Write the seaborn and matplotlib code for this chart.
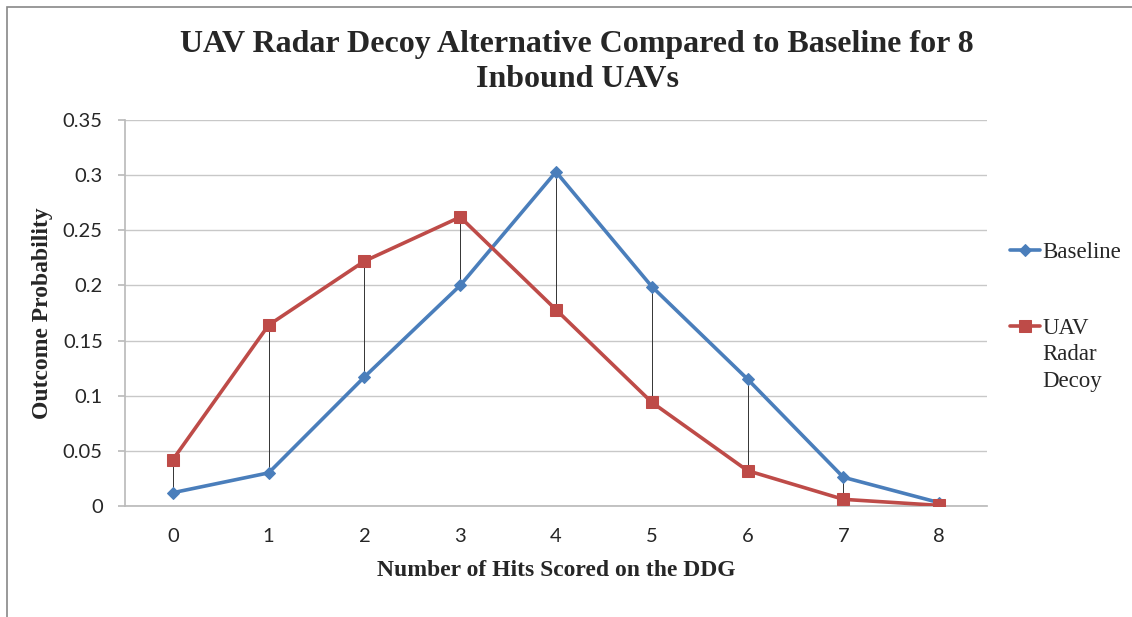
import matplotlib
matplotlib.use("Agg")
import matplotlib.pyplot as plt
import numpy as np
import pandas as pd
import seaborn as sns

# values
hits = [0, 1, 2, 3, 4, 5, 6, 7, 8]
baseline = [0.012, 0.030, 0.117, 0.200, 0.303, 0.199, 0.115, 0.026, 0.003]
decoy = [0.042, 0.164, 0.222, 0.262, 0.178, 0.094, 0.032, 0.006, 0.0005]
series_names = ["Baseline", "UAV Radar Decoy"]
y_ticks = [0, 0.05, 0.1, 0.15, 0.2, 0.25, 0.3, 0.35]
y_ticklabels = ["0", "0.05", "0.1", "0.15", "0.2", "0.25", "0.3", "0.35"]

title = "UAV Radar Decoy Alternative Compared to Baseline for 8\nInbound UAVs"
xlabel = "Number of Hits Scored on the DDG"
ylabel = "Outcome Probability"

df = pd.DataFrame({
    "hits": hits * 2,
    "prob": baseline + decoy,
    "series": [series_names[0]] * len(hits) + [series_names[1]] * len(hits),
})

sns.set_theme(style="white")
serif = ["Liberation Serif", "DejaVu Serif"]
sans = ["Lato", "DejaVu Sans"]

fig = plt.figure(figsize=(11.32, 6.17), dpi=100)
ax = fig.add_axes([0.1104, 0.180, 0.7615, 0.6255])

# high-low lines between the two series
ax.vlines(hits, np.minimum(baseline, decoy), np.maximum(baseline, decoy),
          colors="#333333", linewidth=0.7, zorder=1)

palette = {series_names[0]: "#4A7EBB", series_names[1]: "#BE4B48"}
markers = {series_names[0]: "D", series_names[1]: "s"}
sizes = {series_names[0]: 6, series_names[1]: 8}
for name in series_names:
    sub = df[df["series"] == name]
    sns.lineplot(data=sub, x="hits", y="prob", color=palette[name], marker=markers[name],
                 markersize=sizes[name], markeredgecolor=palette[name], linewidth=2.6,
                 label=name, ax=ax, zorder=3)

ax.set_xlim(-0.5, 8.5)
ax.set_ylim(0, 0.35)
ax.set_xticks(hits)
ax.set_xticklabels([str(h) for h in hits], fontfamily=sans, fontsize=14.5)
ax.set_yticks(y_ticks)
ax.set_yticklabels(y_ticklabels, fontfamily=sans, fontsize=14.5)
ax.yaxis.grid(True, color="#C8C8C8", linewidth=1.0)
ax.xaxis.grid(False)
ax.set_axisbelow(True)
for side in ["top", "right"]:
    ax.spines[side].set_visible(False)
ax.spines["left"].set_color("#BBBBBB")
ax.spines["bottom"].set_color("#BBBBBB")
ax.tick_params(axis="y", which="major", left=True, length=5, color="#BBBBBB", pad=11)
ax.tick_params(axis="x", which="major", bottom=False, pad=10)

ax.set_xlabel(xlabel, fontfamily=serif, fontweight="bold", fontsize=17, labelpad=11)
ax.set_ylabel(ylabel, fontfamily=serif, fontweight="bold", fontsize=17, labelpad=7)

fig.text(0.51, 0.952, title, ha="center", va="top", fontfamily=serif,
         fontweight="bold", fontsize=23, linespacing=1.3)

# legend: label text wraps over three lines, handle sits on the first line
handles, labels = ax.get_legend_handles_labels()
first_words = [lab.split(" ")[0] if " " in lab else lab for lab in labels]
leg = ax.legend(handles, first_words, loc="upper left", bbox_to_anchor=(1.027, 0.684),
                frameon=False, prop={"family": serif, "size": 16.5}, handlelength=1.3,
                handletextpad=0.1, labelspacing=2.4, borderaxespad=0, borderpad=0)
fig.canvas.draw()
for lab, txt in zip(labels, leg.get_texts()):
    rest = lab.split(" ")[1:]
    if rest:
        bb = txt.get_window_extent().transformed(fig.transFigure.inverted())
        fig.text(bb.x0, bb.y0 - 0.008, "\n".join(rest), ha="left", va="top",
                 fontfamily=serif, fontsize=16.5, linespacing=1.35)

# outer frame of the chart object (top and left edges visible)
fig.add_artist(plt.Rectangle((0.006, -0.05), 1.2, 1.039, transform=fig.transFigure,
                             fill=False, edgecolor="#888888", linewidth=1.2))

fig.savefig("out.png", dpi=100)
